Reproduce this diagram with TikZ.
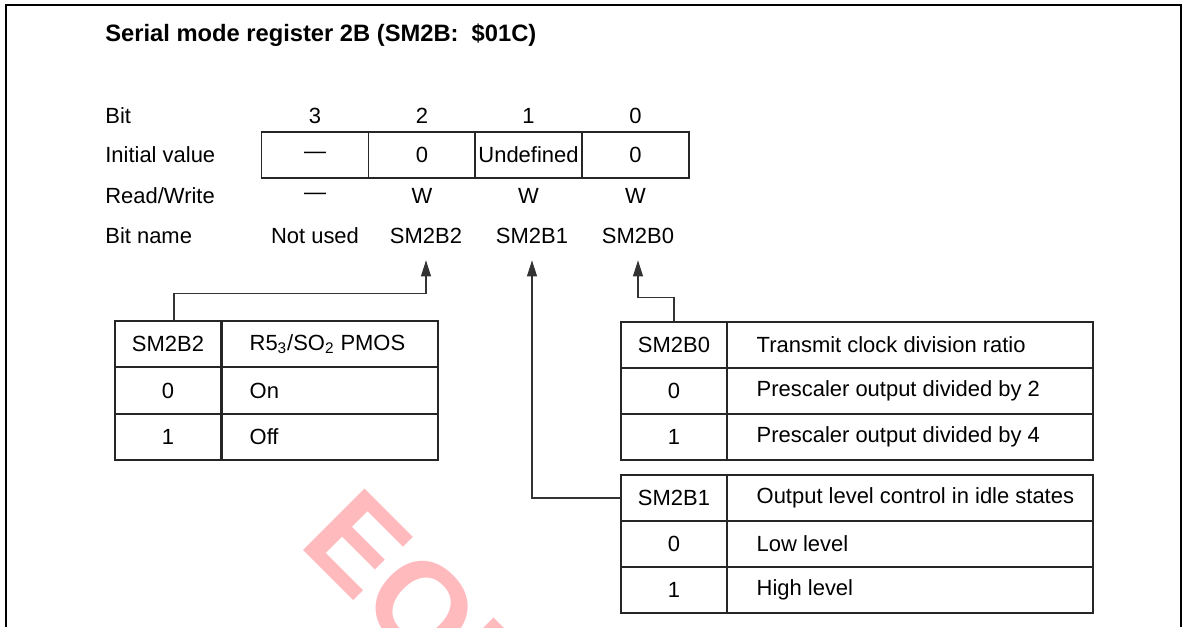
\documentclass[tikz,border=0pt]{standalone}
\usepackage{fontspec}
\setmainfont{Liberation Sans}
\usetikzlibrary{arrows.meta}
\definecolor{wmark}{RGB}{255,186,190}

\begin{document}
\begin{tikzpicture}[
  x=0.02cm, y=-0.02cm,
  txt/.style={font=\fontsize{12.5}{15}\selectfont, inner sep=0pt},
  lab/.style={txt, anchor=west},
  regcell/.style={draw=black!85, line width=0.8pt, txt, minimum width=2.14cm, minimum height=0.92cm},
  bitn/.style={txt, minimum height=0.96cm},
  cellL/.style={draw=black!85, line width=0.8pt, txt, minimum width=2.12cm, minimum height=0.926cm},
  cellR/.style={draw=black!85, line width=0.8pt, inner sep=0pt, minimum height=0.926cm, minimum width=#1},
  arr/.style={-{Triangle[length=0.32cm, width=0.2cm]}, line width=0.6pt, black!80},
  frame/.style={line width=1pt},
  wm/.style={text=wmark, font=\bfseries\fontsize{72}{72}\selectfont, inner sep=0pt}
]
\useasboundingbox (0,0) rectangle (1187,627);

% watermark, cut at the bottom edge
\begin{scope}
  \clip (0,0) rectangle (1187,627);
  \node[wm, rotate=-45, anchor=base west] (eol) at (297,544) {EOL};
\end{scope}

% frame (open at the bottom)
\draw[frame] (6,627) -- (6,5) -- (1181,5) -- (1181,627);

\node[lab, font=\bfseries\fontsize{13.5}{16}\selectfont] (title) at (105,35) {Serial mode register 2B (SM2B:\ \ \$01C)};

% row labels
\node[lab] (lbit)  at (105,116) {Bit};
\node[lab] (linit) at (105,155) {Initial value};
\node[lab] (lrw)   at (105,196) {Read/Write};
\node[lab] (lname) at (105,236) {Bit name};

% register
\node[regcell] (i3) at (315,155)   {—};
\node[regcell] (i2) at (422,155)   {0};
\node[regcell] (i1) at (528.5,155) {Undefined};
\node[regcell] (i0) at (635.5,155) {0};

\node[txt] (b3) at (i3 |- lbit) {3};
\node[txt] (b2) at (i2 |- lbit) {2};
\node[txt] (b1) at (i1 |- lbit) {1};
\node[txt] (b0) at (i0 |- lbit) {0};

\node[txt] (w3) at (i3 |- lrw) {—};
\node[txt] (w2) at (i2 |- lrw) {W};
\node[txt] (w1) at (i1 |- lrw) {W};
\node[txt] (w0) at (i0 |- lrw) {W};

\node[bitn] (n3) at (315,236) {Not used};
\node[bitn] (n2) at (426,236) {SM2B2};
\node[bitn] (n1) at (532,236) {SM2B1};
\node[bitn] (n0) at (638,236) {SM2B0};

% SM2B2 table
\node[cellL] (t2h) at (168,344) {SM2B2};
\node[cellL] (t2a) at (168,390.5) {0};
\node[cellL] (t2b) at (168,437) {1};
\node[cellR=4.32cm] (t2hr) at (330,344) {};
\node[cellR=4.32cm] (t2ar) at (330,390.5) {};
\node[cellR=4.32cm] (t2br) at (330,437) {};
\node[lab] at ([xshift=0.56cm]t2hr.west) {R5\textsubscript{3}/SO\textsubscript{2} PMOS};
\node[lab] at ([xshift=0.56cm]t2ar.west) {On};
\node[lab] at ([xshift=0.56cm]t2br.west) {Off};

% SM2B0 table
\node[cellL] (t0h) at (674,345) {SM2B0};
\node[cellL] (t0a) at (674,391) {0};
\node[cellL] (t0b) at (674,437) {1};
\node[cellR=7.32cm] (t0hr) at (910,345) {};
\node[cellR=7.32cm] (t0ar) at (910,391) {};
\node[cellR=7.32cm] (t0br) at (910,437) {};
\node[lab] at ([xshift=0.6cm]t0hr.west) {Transmit clock division ratio};
\node[lab] at ([xshift=0.6cm]t0ar.west) {Prescaler output divided by 2};
\node[lab] at ([xshift=0.6cm]t0br.west) {Prescaler output divided by 4};

% SM2B1 table
\node[cellL] (t1h) at (674,498) {SM2B1};
\node[cellL] (t1a) at (674,544) {0};
\node[cellL] (t1b) at (674,590) {1};
\node[cellR=7.32cm] (t1hr) at (910,498) {};
\node[cellR=7.32cm] (t1ar) at (910,544) {};
\node[cellR=7.32cm] (t1br) at (910,590) {};
\node[lab] at ([xshift=0.6cm]t1hr.west) {Output level control in idle states};
\node[lab] at ([xshift=0.6cm]t1ar.west) {Low level};
\node[lab] at ([xshift=0.6cm]t1br.west) {High level};

% connectors
\draw[arr] ([xshift=0.12cm]t2h.north) |- ([yshift=-0.66cm]n2.south) -- (n2.south);
\draw[arr] (t1h.west) -| (n1.south);
\draw[arr] (t0h.north) |- ([yshift=-0.74cm]n0.south) -- (n0.south);

\end{tikzpicture}
\end{document}
